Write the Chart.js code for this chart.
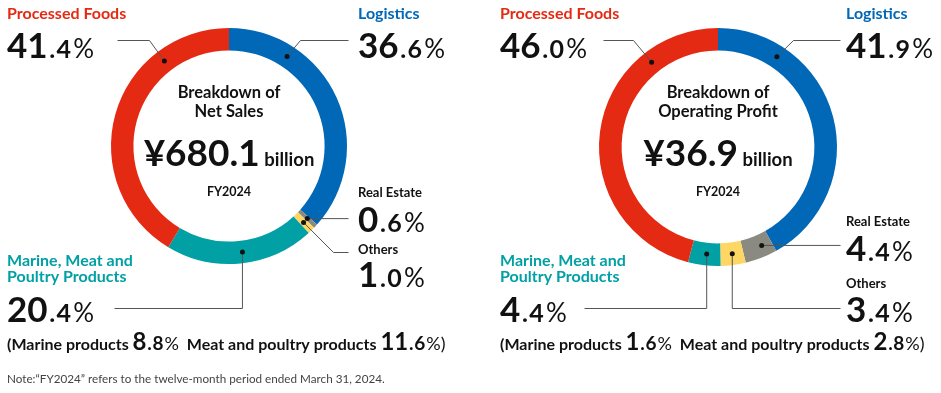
<!DOCTYPE html>
<html>
<head>
<meta charset="utf-8">
<script src="https://cdn.jsdelivr.net/npm/chart.js@4.4.1/dist/chart.umd.min.js"></script>
<style>
html, body { margin: 0; padding: 0; background: #fff; }
#wrap { position: relative; width: 941px; height: 393px; }
canvas { position: absolute; top: 0; }
</style>
</head>
<body>
<div id="wrap">
    <canvas id="chart-sales" width="470" height="393" style="left:0"></canvas>
    <canvas id="chart-profit" width="471" height="393" style="left:470px"></canvas>
</div>
<script>

// data
var segments = ['Logistics', 'Real Estate', 'Others', 'Marine, Meat and Poultry Products', 'Processed Foods'];
var segmentColors = ['#0068b7', '#8a8a80', '#fdd663', '#00a0a5', '#e52a13'];
var salesShare = [36.6, 0.6, 1.0, 20.4, 41.4];
var profitShare = [41.9, 4.4, 3.4, 4.4, 46.0];
var marineSplitLabels = ['Marine products', 'Meat and poultry products'];
var salesMarineSplit = [8.8, 11.6];
var profitMarineSplit = [1.6, 2.8];
var salesTotal = 680.1;
var profitTotal = 36.9;
var periodLabel = 'FY2024';
var noteText = 'Note:\u201cFY2024\u201d refers to the twelve-month period ended March 31, 2024.';

var FONT = 'Lato, "Noto Sans", sans-serif';
var INK = '#111';

var salesLayout = {
    title: ['Breakdown of', 'Net Sales'],
    total: salesTotal,
    pad: { left: 111, right: 123, top: 28, bottom: 129 },
    split: { x: 7, y: 350, values: salesMarineSplit },
    note: true,
    labels: [
        { at: 0.25, name: { x: 358, y: 19, size: 16, color: '#0068b7' }, value: { x: 358, y: 58 }, path: [[300, 40], [348, 40]] },
        { at: 0.5, name: { x: 358, y: 197, size: 13, color: INK }, value: { x: 358, y: 232 }, path: [[348, 'dot']] },
        { at: 0.5, name: { x: 358, y: 254, size: 13, color: INK }, value: { x: 358, y: 287 }, path: [[333, 252], [348, 252]] },
        { at: 0.48, name: { x: 7, y: 266, size: 16, color: '#00a0a5', lines: ['Marine, Meat and', 'Poultry Products'] }, value: { x: 7, y: 322 }, path: [['dot', 308], [114, 308]] },
        { at: 0.75, name: { x: 7, y: 19, size: 16, color: '#e52a13' }, value: { x: 7, y: 58 }, path: [[149, 40], [117, 40]] }
    ]
};

var profitLayout = {
    title: ['Breakdown of', 'Operating Profit'],
    total: profitTotal,
    pad: { left: 129, right: 104, top: 28, bottom: 127 },
    split: { x: 30, y: 350, values: profitMarineSplit },
    note: false,
    labels: [
        { at: 0.22, name: { x: 376, y: 19, size: 16, color: '#0068b7' }, value: { x: 376, y: 58 }, path: [[323, 40], [370, 40]] },
        { at: 0.34, name: { x: 376, y: 226, size: 13, color: INK }, value: { x: 376, y: 261 }, path: [[370, 'dot']] },
        { at: 0.48, name: { x: 376, y: 288, size: 13, color: INK }, value: { x: 376, y: 322 }, path: [['dot', 308], [370, 308]] },
        { at: 0.46, name: { x: 30, y: 266, size: 16, color: '#00a0a5', lines: ['Marine, Meat and', 'Poultry Products'] }, value: { x: 30, y: 322 }, path: [['dot', 308], [114, 308]] },
        { at: 0.77, name: { x: 30, y: 19, size: 16, color: '#e52a13' }, value: { x: 30, y: 58 }, path: [[163, 40], [133, 40]] }
    ]
};


function font(weight, size) {
    return weight + ' ' + size + 'px ' + FONT;
}

// runs are [text, font, gap after]
function valueRuns(v, big, small, pct, gap, suffix) {
    var parts = v.toFixed(1).split('.');
    return [
        [parts[0], font(700, big), gap * 0.7],
        ['.', font(700, small), gap * 0.5],
        [parts[1], font(700, small), gap * 0.9],
        ['%' + (suffix || ''), font(400, pct), 0]
    ];
}

function drawRuns(ctx, x, y, runs, color, align) {
    ctx.textBaseline = 'alphabetic';
    ctx.textAlign = 'left';
    ctx.fillStyle = color;
    if (align === 'center') {
        var w = 0;
        runs.forEach(function (r) { ctx.font = r[1]; w += ctx.measureText(r[0]).width + (r[2] || 0); });
        x = x - w / 2;
    }
    runs.forEach(function (r) {
        ctx.font = r[1];
        ctx.fillText(r[0], x, y);
        x += ctx.measureText(r[0]).width + (r[2] || 0);
    });
}

var labelsPlugin = {
    id: 'labels',
    afterDraw: function (chart) {
        var layout = chart.options.plugins.labels.layout;
        var values = chart.data.datasets[0].data;
        var ctx = chart.ctx;
        var meta = chart.getDatasetMeta(0);
        var cx = 0;
        ctx.save();

        meta.data.forEach(function (arc, i) {
            var p = arc.getProps(['x', 'y', 'startAngle', 'endAngle', 'innerRadius', 'outerRadius'], true);
            cx = p.x;
            var lab = layout.labels[i];
            var a = p.startAngle + (p.endAngle - p.startAngle) * lab.at;
            var r = (p.innerRadius + p.outerRadius) / 2;
            var dx = p.x + Math.cos(a) * r;
            var dy = p.y + Math.sin(a) * r;

            // leader line
            ctx.strokeStyle = '#555';
            ctx.lineWidth = 1;
            ctx.beginPath();
            ctx.moveTo(dx, dy);
            lab.path.forEach(function (pt) {
                var px = pt[0] === 'dot' ? dx : pt[0] + 0.5;
                var py = pt[1] === 'dot' ? dy : pt[1] + 0.5;
                ctx.lineTo(px, py);
            });
            ctx.stroke();
            ctx.fillStyle = INK;
            ctx.beginPath();
            ctx.arc(dx, dy, 2.5, 0, Math.PI * 2);
            ctx.fill();

            // name
            var lines = lab.name.lines || [segments[i]];
            lines.forEach(function (t, k) {
                drawRuns(ctx, lab.name.x, lab.name.y + k * 16, [[t, font(700, lab.name.size)]], lab.name.color);
            });

            // value
            drawRuns(ctx, lab.value.x, lab.value.y, valueRuns(values[i], 35, 25, 26, 2.5), INK);
        });

        // centre text
        layout.title.forEach(function (t, k) {
            drawRuns(ctx, cx, 98 + k * 19, [[t, font(700, 16.5)]], INK, 'center');
        });
        drawRuns(ctx, cx, 166, [
            ['\u00a5' + layout.total.toFixed(1), font(700, 37)],
            [' billion', font(700, 18.5)]
        ], INK, 'center');
        drawRuns(ctx, cx, 196, [[periodLabel, font(700, 12.5)]], INK, 'center');

        // marine split line
        var s = layout.split;
        var runs = [['(' + marineSplitLabels[0] + ' ', font(700, 16)]]
            .concat(valueRuns(s.values[0], 24, 19, 18, 1.2))
            .concat([['  ' + marineSplitLabels[1] + ' ', font(700, 16)]])
            .concat(valueRuns(s.values[1], 24, 19, 18, 1.2, ')'));
        drawRuns(ctx, s.x, s.y, runs, INK);

        if (layout.note) {
            drawRuns(ctx, 7, 383, [[noteText, font(400, 11.7)]], '#444');
        }
        ctx.restore();
    }
};

function drawShareChart(id, share, layout) {
    new Chart(document.getElementById(id), {
        type: 'doughnut',
        data: {
            labels: segments,
            datasets: [{
                data: share,
                backgroundColor: segmentColors,
                borderWidth: 0,
                hoverOffset: 0
            }]
        },
        options: {
            responsive: false,
            devicePixelRatio: 1,
            animation: false,
            cutout: '81%',
            layout: { padding: layout.pad },
            events: [],
            plugins: {
                legend: { display: false },
                tooltip: { enabled: false },
                labels: { layout: layout }
            }
        },
        plugins: [labelsPlugin]
    });
}

drawShareChart('chart-sales', salesShare, salesLayout);
drawShareChart('chart-profit', profitShare, profitLayout);

</script>
</body>
</html>
